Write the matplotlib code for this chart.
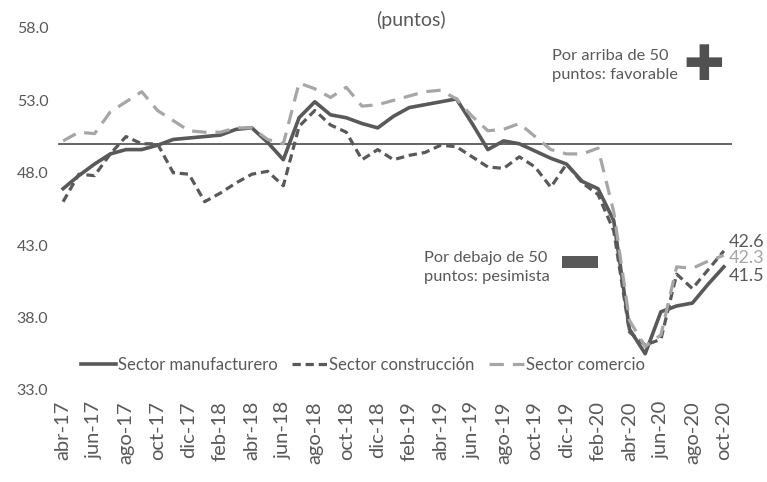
import numpy as np
import matplotlib.pyplot as plt

# months abr-17 .. oct-20
month_names = ["ene", "feb", "mar", "abr", "may", "jun", "jul", "ago", "sep", "oct", "nov", "dic"]
months = []
for k in range(43):
    m = (3 + k) % 12
    y = 17 + (3 + k) // 12
    months.append(month_names[m] + "-" + str(y))

manufacturero = [46.9, 47.8, 48.6, 49.3, 49.6, 49.6, 49.9, 50.3, 50.4, 50.5, 50.6, 51.0, 51.1,
                 50.1, 48.9, 51.8, 52.9, 52.0, 51.8, 51.4, 51.1, 51.9, 52.5, 52.7, 52.9, 53.1,
                 51.4, 49.6, 50.2, 50.0, 49.5, 49.0, 48.6, 47.4, 46.9, 44.7, 37.2, 35.5, 38.4,
                 38.8, 39.0, 40.3, 41.5]
construccion = [46.0, 47.9, 47.8, 49.3, 50.5, 50.0, 50.0, 48.0, 47.9, 46.0, 46.6, 47.3, 47.9,
                48.1, 47.1, 51.2, 52.3, 51.3, 50.8, 48.9, 49.6, 48.9, 49.2, 49.4, 49.9, 49.8,
                49.1, 48.4, 48.3, 49.1, 48.4, 47.0, 48.6, 47.3, 46.5, 44.0, 37.0, 36.1, 36.5,
                41.0, 40.0, 41.3, 42.6]
comercio = [50.2, 50.8, 50.7, 52.2, 52.9, 53.6, 52.3, 51.6, 50.9, 50.8, 50.8, 51.1, 51.1,
            50.3, 50.0, 54.2, 53.8, 53.2, 53.9, 52.6, 52.7, 53.0, 53.3, 53.6, 53.7, 53.1,
            51.9, 50.9, 51.0, 51.4, 50.5, 49.6, 49.3, 49.3, 49.7, 45.3, 37.8, 36.0, 36.8,
            41.5, 41.4, 41.9, 42.3]
end_labels = ["42.6", "42.3", "41.5"]

dark = "#595959"
light = "#a6a6a6"

plt.rcParams['font.family'] = ['Lato', 'DejaVu Sans']

fig = plt.figure(figsize=(7.67, 4.82), dpi=100)
ax = fig.add_axes([0.072, 0.191, 0.882, 0.751])

x = np.arange(len(months))
ax.axhline(50, color=dark, lw=1.3, xmin=0.005, xmax=1.0)
ax.plot(x, manufacturero, color=dark, lw=2.6, label="Sector manufacturero")
ax.plot(x, construccion, color=dark, lw=2.3, dashes=(2.6, 1.5), label="Sector construcción")
ax.plot(x, comercio, color=light, lw=2.3, dashes=(4.5, 2.8), label="Sector comercio")

ax.set_xlim(-0.5, 42.5)
ax.set_ylim(33, 58)
ax.set_yticks([33, 38, 43, 48, 53, 58])
ax.set_yticklabels(["33.0", "38.0", "43.0", "48.0", "53.0", "58.0"])
ax.set_xticks(x[::2])
ax.set_xticklabels(months[::2], rotation=90)
ax.tick_params(axis='both', length=0, colors=dark)
ax.tick_params(axis='y', pad=5, labelsize=11.5)
ax.tick_params(axis='x', pad=8, labelsize=14.5)
for s in ax.spines.values():
    s.set_visible(False)

# end values
narrow = ['Liberation Sans Narrow', 'Lato', 'DejaVu Sans']
ax.text(42.3, 43.2, end_labels[0], color=dark, fontsize=13, va='center', family=narrow)
ax.text(42.3, 42.1, end_labels[1], color=light, fontsize=13, va='center', family=narrow)
ax.text(42.3, 40.9, end_labels[2], color=dark, fontsize=13, va='center', family=narrow)

ax.text(22.1, 58.55, "(puntos)", color=dark, fontsize=14, ha='center', va='center')

ax.text(31.1, 55.4, "Por arriba de 50\npuntos: favorable", color=dark, fontsize=11.8,
        ha='left', va='center', linespacing=1.5)
ax.text(40.7, 55.4, "✚", color="#505050", fontsize=35, ha='center', va='center',
        family=['DejaVu Sans'])
ax.text(22.95, 41.45, "Por debajo de 50\npuntos: pesimista", color=dark, fontsize=11.8,
        ha='left', va='center', linespacing=1.5)
ax.add_patch(plt.Rectangle((31.7, 41.45), 2.3, 0.82, color=dark, lw=0))

leg = ax.legend(loc='center', bbox_to_anchor=(0.455, 0.07), ncol=3, frameon=False,
                fontsize=12, handlelength=2.1, columnspacing=0.9, handletextpad=0.1)
for t in leg.get_texts():
    t.set_color(dark)

fig.savefig("out.png", dpi=100)
